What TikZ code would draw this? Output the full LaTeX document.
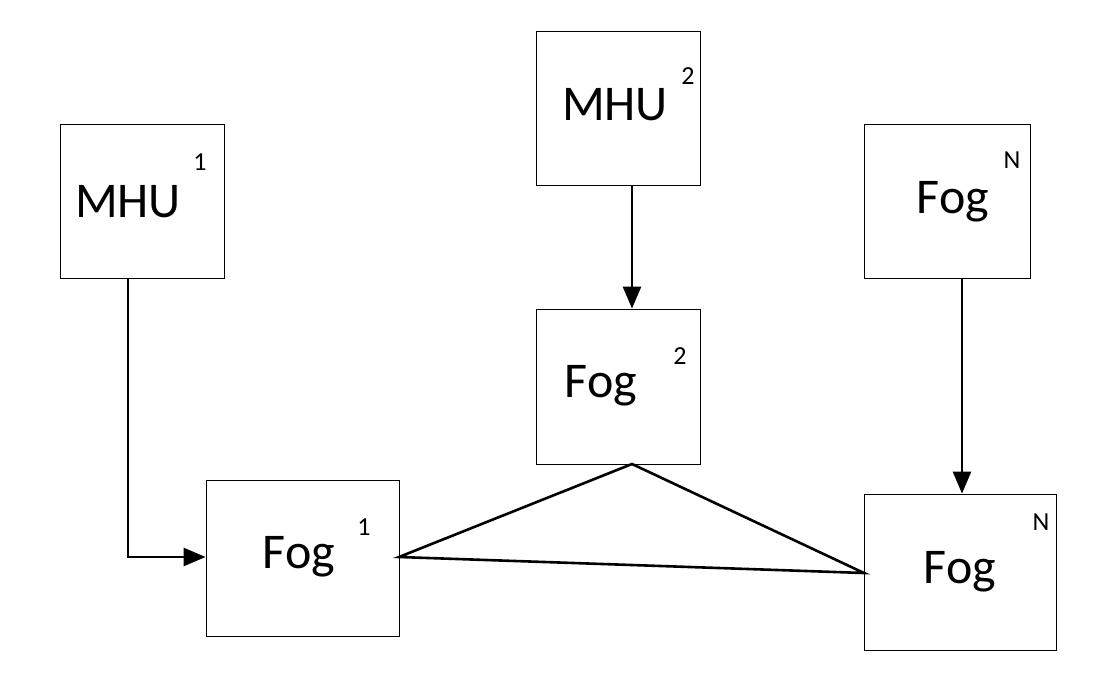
\documentclass[tikz,border=0pt]{standalone}
\usepackage{fontspec}
\setmainfont{Carlito}
\usetikzlibrary{arrows.meta}
\begin{document}
\begin{tikzpicture}[x=1pt,y=-1pt,
 box/.style={draw,line width=0.8pt,inner sep=0pt},
 big/.style={font=\fontsize{50}{50}\selectfont,inner sep=0pt},
 sup/.style={font=\fontsize{26}{26}\selectfont,inner sep=0pt},
 ln/.style={line width=2.6pt},
 arr/.style={ln,-{Triangle[length=22pt,width=18pt]}}]
\useasboundingbox (0,0) rectangle (1096,673);
\node[box,minimum width=164pt,minimum height=154pt] (m1) at (142,201) {};
\node[box,minimum width=164pt,minimum height=154pt] (m2) at (618,108) {};
\node[box,minimum width=166pt,minimum height=154pt] (fnt) at (947,201) {};
\node[box,minimum width=164pt,minimum height=155pt] (f2) at (618,386.5) {};
\node[box,minimum width=193pt,minimum height=156pt] (f1) at (302.5,558) {};
\node[box,minimum width=192pt,minimum height=156pt] (fn) at (960,572) {};
\node[big] (t1) at (128,202) {MHU};
\node[sup] (s1) at (200,162) {1};
\node[big] (t2) at (615,105) {MHU};
\node[sup] (s2) at (688,76) {2};
\node[big] (t3) at (953,202) {Fog};
\node[sup] (s3) at (1012,160) {N};
\node[big] (t4) at (601,386) {Fog};
\node[sup] (s4) at (680,356) {2};
\node[big] (t5) at (299,557) {Fog};
\node[sup] (s5) at (364,527) {1};
\node[big] (t6) at (960,572) {Fog};
\node[sup] (s6) at (1041,522) {N};
\coordinate (c1) at (128,557);
\coordinate (p1) at (399,557);
\coordinate (p2) at (632,464);
\coordinate (p3) at (864,573);
\draw[arr] (m1.south -| c1) -- (c1) -- (f1.west |- c1);
\draw[arr] (m2.south -| p2) -- (f2.north -| p2);
\draw[arr] ([xshift=15pt]fnt.south) -- ([xshift=15pt]fnt.south |- fn.north);
\draw[ln,line join=miter] (p1) -- (p2) -- (p3) -- cycle;
\end{tikzpicture}
\end{document}
